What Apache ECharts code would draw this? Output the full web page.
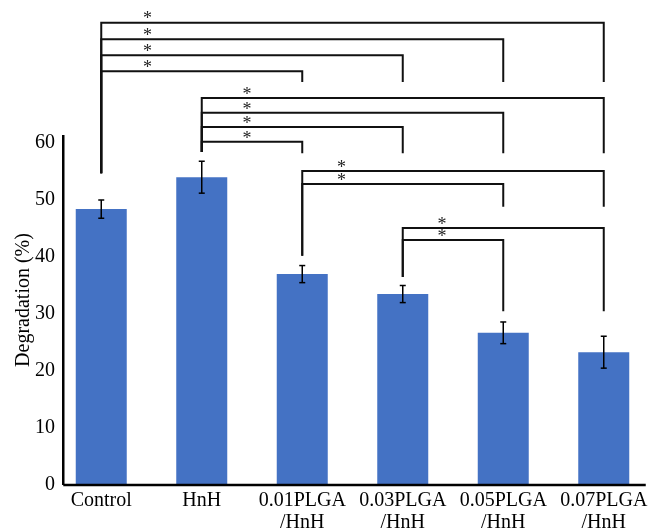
<!DOCTYPE html>
<html>
<head>
<meta charset="utf-8">
<script src="https://cdn.jsdelivr.net/npm/echarts@6/dist/echarts.min.js"></script>
<style>html,body{margin:0;padding:0;background:#fff;}#c{width:652px;height:529px;}</style>
</head>
<body>
<div id="c"></div>
<script>
// ---- data ----
const categories = ['Control', 'HnH', '0.01PLGA\n/HnH', '0.03PLGA\n/HnH', '0.05PLGA\n/HnH', '0.07PLGA\n/HnH'];
const degradation = [48.4, 54.0, 37.0, 33.5, 26.7, 23.3];
const errors = [1.6, 2.8, 1.5, 1.5, 1.9, 2.8];
const yTicks = [0, 10, 20, 30, 40, 50, 60];

// significance brackets (category indices and heights in % units)
const bracketFrom  = [0, 0, 0, 0, 1, 1, 1, 1, 2, 2, 3, 3];
const bracketTo    = [5, 4, 3, 2, 5, 4, 3, 2, 5, 4, 5, 4];
const bracketLevel = [81.1, 78.2, 75.4, 72.6, 67.9, 65.3, 62.8, 60.2, 55.1, 52.8, 45.1, 43.0];
const bracketLeftEnd  = [54.7, 54.7, 54.7, 54.7, 58.4, 58.4, 58.4, 58.4, 40.2, 40.2, 36.5, 36.5];
const bracketRightEnd = [70.7, 70.7, 70.7, 70.7, 58.2, 58.2, 58.2, 58.2, 48.8, 48.8, 30.5, 30.5];
const bracketStarOffset = [0.46, 0.46, 0.46, 0.46, 0.45, 0.45, 0.45, 0.45, 0.39, 0.39, 0.39, 0.39];
const bracketLabel    = ['*', '*', '*', '*', '*', '*', '*', '*', '*', '*', '*', '*'];

const FONT = "'Liberation Serif', 'Times New Roman', serif";
const chart = echarts.init(document.getElementById('c'), null, {renderer: 'canvas'});

const bracketData = bracketFrom.map((f, i) => [f, bracketTo[i], bracketLevel[i], bracketLeftEnd[i], bracketRightEnd[i], bracketStarOffset[i]]);

chart.setOption({
  animation: false,
  backgroundColor: '#fff',
  grid: {left: 51, width: 603, top: 143, height: 342, containLabel: false, outerBoundsMode: 'none'},
  xAxis: {
    type: 'category',
    data: categories,
    axisLine: {show: false},
    axisTick: {show: false},
    axisLabel: {color: '#000', fontFamily: FONT, fontSize: 20, lineHeight: 22, margin: 5, interval: 0}
  },
  yAxis: {
    type: 'value',
    min: yTicks[0],
    max: yTicks[yTicks.length - 1],
    interval: 10,
    offset: -12,
    axisLine: {show: false},
    axisTick: {show: false},
    splitLine: {show: false},
    axisLabel: {color: '#000', fontFamily: FONT, fontSize: 20, margin: 8},
    name: 'Degradation (%)',
    nameLocation: 'middle',
    nameGap: 29,
    nameMoveOverlap: false,
    nameTextStyle: {color: '#000', fontFamily: FONT, fontSize: 20, padding: [0, 0, 0, 28]}
  },
  series: [
    {
      type: 'bar',
      data: degradation,
      barWidth: 51,
      itemStyle: {color: '#4472C4'},
      z: 2
    },
    {
      type: 'custom',
      z: 5,
      clip: false,
      data: degradation.map((v, i) => [i, v, errors[i]]),
      renderItem: function (params, api) {
        const i = api.value(0), v = api.value(1), e = api.value(2);
        const top = api.coord([i, v + e]);
        const bot = api.coord([i, v - e]);
        const cap = 3;
        const st = {stroke: '#000', lineWidth: 1.5};
        return {type: 'group', children: [
          {type: 'line', shape: {x1: top[0], y1: top[1], x2: bot[0], y2: bot[1]}, style: st},
          {type: 'line', shape: {x1: top[0] - cap, y1: top[1], x2: top[0] + cap, y2: top[1]}, style: st},
          {type: 'line', shape: {x1: bot[0] - cap, y1: bot[1], x2: bot[0] + cap, y2: bot[1]}, style: st}
        ]};
      }
    },
    {
      type: 'custom',
      z: 6,
      clip: false,
      data: bracketData,
      renderItem: function (params, api) {
        const f = api.value(0), t = api.value(1), lv = api.value(2), le = api.value(3), re = api.value(4), so = api.value(5);
        const p1 = api.coord([f, le]);
        const p2 = api.coord([f, lv]);
        const p3 = api.coord([t, lv]);
        const p4 = api.coord([t, re]);
        const band = api.size([1, 0])[0];
        const sx = p2[0] + so * band;
        return {type: 'group', children: [
          {type: 'polyline', shape: {points: [p1, p2, p3, p4]}, style: {stroke: '#111', lineWidth: 2, fill: null}},
          {type: 'text', x: sx, y: p2[1] - 3, style: {text: bracketLabel[params.dataIndex], fill: '#222', font: '18px ' + FONT, textAlign: 'center', textVerticalAlign: 'middle'}}
        ]};
      }
    },
    {
      type: 'custom',
      z: 7,
      clip: false,
      data: [[0, 5]],
      renderItem: function (params, api) {
        const o = api.coord([api.value(0), 0]);
        const e = api.coord([api.value(1), 0]);
        const yt = api.coord([api.value(0), 61.4]);
        const xl = o[0] - 38;
        return {type: 'group', children: [
          {type: 'line', shape: {x1: xl, y1: o[1], x2: e[0] + 42, y2: o[1]}, style: {stroke: '#000', lineWidth: 2.5}},
          {type: 'line', shape: {x1: xl, y1: yt[1], x2: xl, y2: o[1]}, style: {stroke: '#000', lineWidth: 2.5}}
        ]};
      }
    }
  ]
});
</script>
</body>
</html>
